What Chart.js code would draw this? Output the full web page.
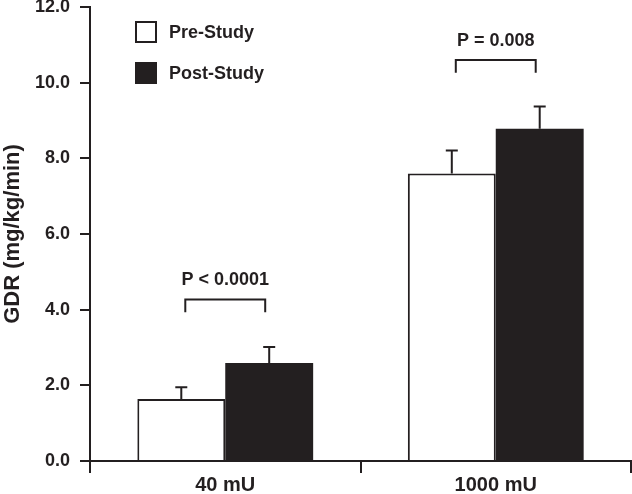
<!DOCTYPE html>
<html>
<head>
<meta charset="utf-8">
<script src="https://cdn.jsdelivr.net/npm/chart.js@4/dist/chart.umd.min.js"></script>
<style>
  html, body { margin: 0; padding: 0; background: #fff; }
  #wrap { width: 632px; height: 494px; }
</style>
</head>
<body>
<div id="wrap"><canvas id="myChart" width="632" height="494"></canvas></div>
<script>
// data
const categories = ["40 mU", "1000 mU"];
const preStudy = [1.64, 7.6];
const postStudy = [2.59, 8.78];
const preErr = [0.31, 0.61];
const postErr = [0.42, 0.59];
const yTicks = [0, 2, 4, 6, 8, 10, 12];
const pLabels = ["P < 0.0001", "P = 0.008"];
const bracketTop = [4.27, 10.6];
const bracketLeg = [3.93, 10.26];

const INK = "#231f20";
const FONT = "'Liberation Sans', Arial, sans-serif";

//error bars, only upward
const errorBars = {
  id: "errorBars",
  afterDatasetsDraw(chart) {
    const { ctx } = chart;
    const y = chart.scales.y;
    const errs = [preErr, postErr];
    ctx.save();
    ctx.strokeStyle = INK;
    ctx.lineWidth = 2;
    for (let d = 0; d < chart.data.datasets.length; d++) {
      const meta = chart.getDatasetMeta(d);
      for (let i = 0; i < meta.data.length; i++) {
        const bar = meta.data[i];
        const val = chart.data.datasets[d].data[i];
        const top = y.getPixelForValue(val + errs[d][i]);
        ctx.beginPath();
        ctx.moveTo(bar.x, bar.y);
        ctx.lineTo(bar.x, top);
        ctx.moveTo(bar.x - 6, top);
        ctx.lineTo(bar.x + 6, top);
        ctx.stroke();
      }
    }
    ctx.restore();
  },
};

//P value brackets
const pBrackets = {
  id: "pBrackets",
  afterDatasetsDraw(chart) {
    const { ctx } = chart;
    const y = chart.scales.y;
    const pre = chart.getDatasetMeta(0).data;
    const post = chart.getDatasetMeta(1).data;
    ctx.save();
    ctx.strokeStyle = INK;
    ctx.fillStyle = INK;
    ctx.lineWidth = 2;
    ctx.font = "bold 18px " + FONT;
    ctx.textAlign = "center";
    ctx.textBaseline = "middle";
    for (let i = 0; i < pLabels.length; i++) {
      const x1 = pre[i].x + 4;
      const x2 = post[i].x - 4;
      const yt = y.getPixelForValue(bracketTop[i]);
      const yl = y.getPixelForValue(bracketLeg[i]);
      ctx.beginPath();
      ctx.moveTo(x1, yl);
      ctx.lineTo(x1, yt);
      ctx.lineTo(x2, yt);
      ctx.lineTo(x2, yl);
      ctx.stroke();
      ctx.fillText(pLabels[i], (x1 + x2) / 2, yt - 19);
    }
    ctx.restore();
  },
};

//legend boxes top left
const boxLegend = {
  id: "boxLegend",
  afterDraw(chart) {
    const { ctx, chartArea } = chart;
    ctx.save();
    ctx.font = "bold 18px " + FONT;
    ctx.textBaseline = "middle";
    chart.data.datasets.forEach((ds, i) => {
      const bx = chartArea.left + 45;
      const by = chartArea.top + 14 + i * 41;
      ctx.fillStyle = ds.backgroundColor;
      ctx.fillRect(bx, by, 22, 22);
      ctx.strokeStyle = INK;
      ctx.lineWidth = 2;
      ctx.strokeRect(bx + 1, by + 1, 20, 20);
      ctx.fillStyle = INK;
      ctx.fillText(ds.label, bx + 34, by + 12);
    });
    ctx.restore();
  },
};

var ctx = document.getElementById("myChart").getContext("2d");

var chart = new Chart(ctx, {
  type: "bar",
  data: {
    labels: categories,
    datasets: [
      {
        label: "Pre-Study",
        data: preStudy,
        backgroundColor: "#ffffff",
        borderColor: INK,
        borderWidth: 2,
        borderSkipped: "bottom",
      },
      {
        label: "Post-Study",
        data: postStudy,
        backgroundColor: INK,
        borderColor: INK,
        borderWidth: 0,
      },
    ],
  },
  options: {
    responsive: false,
    animation: false,
    layout: {
      padding: { top: 7, right: 1, left: 0, bottom: 0 },
    },
    datasets: {
      bar: { categoryPercentage: 0.65, barPercentage: 1.0 },
    },
    plugins: {
      legend: { display: false },
      tooltip: { enabled: false },
    },
    scales: {
      x: {
        offset: true,
        grid: {
          offset: true,
          drawOnChartArea: false,
          drawTicks: true,
          tickLength: 12,
          color: INK,
          lineWidth: 2,
        },
        border: { color: INK, width: 2 },
        ticks: {
          color: INK,
          padding: 0,
          font: { family: FONT, size: 20, weight: "bold" },
        },
        afterFit(scale) {
          scale.height = 33;
          scale.paddingLeft = 0;
          scale.paddingRight = 0;
        },
      },
      y: {
        min: 0,
        max: 12,
        afterBuildTicks(scale) {
          scale.ticks = yTicks.map((v) => ({ value: v }));
        },
        grid: {
          drawOnChartArea: false,
          drawTicks: true,
          tickLength: 10,
          color: INK,
          lineWidth: 2,
        },
        border: { color: INK, width: 2 },
        ticks: {
          color: INK,
          padding: 10,
          font: { family: FONT, size: 18, weight: "bold" },
          callback: (v) => Number(v).toFixed(1),
        },
        title: {
          display: true,
          text: "GDR (mg/kg/min)",
          color: INK,
          padding: { top: 0, bottom: 0 },
          font: { family: FONT, size: 22, weight: "bold" },
        },
        afterFit(scale) {
          scale.width = 90;
          scale.paddingTop = 0;
          scale.paddingBottom = 0;
        },
      },
    },
  },
  plugins: [errorBars, pBrackets, boxLegend],
});
</script>
</body>
</html>
